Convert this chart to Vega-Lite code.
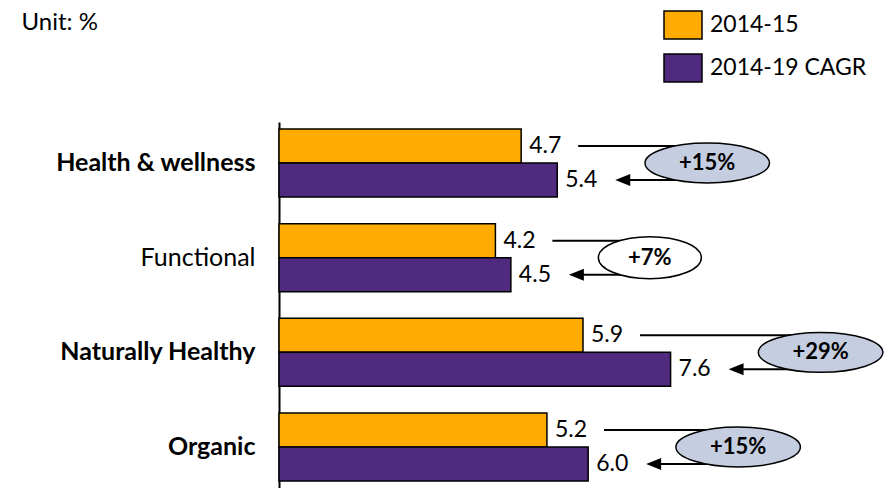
{
  "$schema": "https://vega.github.io/schema/vega-lite/v6.json",
  "width": 608,
  "height": 366,
  "autosize": {"type": "none"},
  "padding": {"left": 279, "top": 122, "right": 8, "bottom": 0},
  "background": "white",
  "config": {"view": {"stroke": null}, "font": "Lato"},
  "data": {
    "values": [
      {"category": "Health & wellness", "2014-15": 4.7, "2014-19 CAGR": 5.4, "growth": 0.15},
      {"category": "Functional", "2014-15": 4.2, "2014-19 CAGR": 4.5, "growth": 0.07},
      {"category": "Naturally Healthy", "2014-15": 5.9, "2014-19 CAGR": 7.6, "growth": 0.29},
      {"category": "Organic", "2014-15": 5.2, "2014-19 CAGR": 6.0, "growth": 0.15}
    ]
  },
  "encoding": {
    "y": {
      "field": "category",
      "type": "nominal",
      "sort": ["Health & wellness", "Functional", "Naturally Healthy", "Organic"],
      "scale": {"paddingInner": 0.2817, "paddingOuter": 0.074},
      "axis": {
        "title": "Unit: %",
        "titleAngle": 0,
        "titleX": -258,
        "titleY": -93,
        "titleAlign": "left",
        "titleBaseline": "alphabetic",
        "titleFont": "Lato",
        "titleFontSize": 24,
        "titleFontWeight": "normal",
        "titleColor": "black",
        "domainColor": "black",
        "domainWidth": 2,
        "ticks": false,
        "labelFont": "Lato",
        "labelFontSize": 25,
        "labelFontWeight": {"condition": {"test": "datum.value === 'Functional'", "value": "normal"}, "value": "bold"},
        "labelColor": "black",
        "labelPadding": 24,
        "labelLimit": 300
      }
    }
  },
  "layer": [
    {
      "transform": [{"fold": ["2014-15", "2014-19 CAGR"], "as": ["series", "value"]}],
      "mark": {"type": "bar", "stroke": "black", "strokeWidth": 1.5, "opacity": 1},
      "encoding": {
        "x": {"field": "value", "type": "quantitative", "scale": {"domain": [0, 11.8], "nice": false}, "axis": null},
        "yOffset": {"field": "series", "sort": ["2014-15", "2014-19 CAGR"]},
        "color": {
          "field": "series",
          "type": "nominal",
          "scale": {"domain": ["2014-15", "2014-19 CAGR"], "range": ["#FFAB00", "#4F2A7F"]},
          "legend": {
            "orient": "none",
            "legendX": 384,
            "legendY": -117,
            "title": null,
            "padding": 0,
            "symbolType": "M -1 -0.737 L 1 -0.737 L 1 0.737 L -1 0.737 Z",
            "symbolSize": 1444,
            "symbolStrokeColor": "black",
            "symbolStrokeWidth": 1.5,
            "symbolOpacity": 1,
            "labelFont": "Lato",
            "labelFontSize": 23,
            "labelColor": "black",
            "labelOffset": 7,
            "rowPadding": 5
          }
        }
      }
    },
    {
      "transform": [{"fold": ["2014-15", "2014-19 CAGR"], "as": ["series", "value"]}],
      "mark": {"type": "text", "align": "left", "baseline": "middle", "dx": 8, "font": "Lato", "fontSize": 23, "color": "black"},
      "encoding": {
        "x": {"field": "value", "type": "quantitative", "scale": {"domain": [0, 11.8], "nice": false}},
        "yOffset": {"field": "series", "sort": ["2014-15", "2014-19 CAGR"]},
        "text": {"field": "value", "type": "quantitative", "format": ".1f"}
      }
    },
    {
      "mark": {"type": "rule", "color": "black", "strokeWidth": 2, "xOffset": 57, "x2Offset": 150, "yOffset": -17},
      "encoding": {
        "x": {"field": "2014-15", "type": "quantitative", "scale": {"domain": [0, 11.8], "nice": false}},
        "x2": {"field": "2014-19 CAGR"}
      }
    },
    {
      "mark": {"type": "rule", "color": "black", "strokeWidth": 2, "xOffset": 70, "x2Offset": 150, "yOffset": 17},
      "encoding": {
        "x": {"field": "2014-19 CAGR", "type": "quantitative", "scale": {"domain": [0, 11.8], "nice": false}},
        "x2": {"field": "2014-19 CAGR"}
      }
    },
    {
      "mark": {"type": "point", "shape": "M -1 0 L 1 -0.8 L 1 0.8 Z", "size": 225, "filled": true, "color": "black", "opacity": 1, "xOffset": 65.5, "yOffset": 17},
      "encoding": {
        "x": {"field": "2014-19 CAGR", "type": "quantitative", "scale": {"domain": [0, 11.8], "nice": false}}
      }
    },
    {
      "transform": [{"filter": "datum.growth >= 0.1"}],
      "layer": [
        {
          "mark": {
            "type": "point",
            "shape": "M -1 0 C -1 -0.1767 -0.5523 -0.32 0 -0.32 C 0.5523 -0.32 1 -0.1767 1 0 C 1 0.1767 0.5523 0.32 0 0.32 C -0.5523 0.32 -1 0.1767 -1 0 Z",
            "size": 15500,
            "filled": true,
            "fill": "#C5CEE0",
            "stroke": "black",
            "strokeWidth": 1.5,
            "opacity": 1,
            "xOffset": 150
          },
          "encoding": {
            "x": {"field": "2014-19 CAGR", "type": "quantitative", "scale": {"domain": [0, 11.8], "nice": false}}
          }
        },
        {
          "mark": {"type": "text", "align": "center", "baseline": "middle", "font": "Lato", "fontSize": 22, "fontWeight": "bold", "color": "black", "xOffset": 150},
          "encoding": {
            "x": {"field": "2014-19 CAGR", "type": "quantitative", "scale": {"domain": [0, 11.8], "nice": false}},
            "text": {"field": "growth", "type": "quantitative", "format": "+.0%"}
          }
        }
      ]
    },
    {
      "transform": [{"filter": "datum.growth < 0.1"}],
      "layer": [
        {
          "mark": {
            "type": "point",
            "shape": "M -1 0 C -1 -0.2253 -0.5523 -0.408 0 -0.408 C 0.5523 -0.408 1 -0.2253 1 0 C 1 0.2253 0.5523 0.408 0 0.408 C -0.5523 0.408 -1 0.2253 -1 0 Z",
            "size": 10609,
            "filled": true,
            "fill": "white",
            "stroke": "black",
            "strokeWidth": 1.5,
            "opacity": 1,
            "xOffset": 139
          },
          "encoding": {
            "x": {"field": "2014-19 CAGR", "type": "quantitative", "scale": {"domain": [0, 11.8], "nice": false}}
          }
        },
        {
          "mark": {"type": "text", "align": "center", "baseline": "middle", "font": "Lato", "fontSize": 22, "fontWeight": "bold", "color": "black", "xOffset": 139},
          "encoding": {
            "x": {"field": "2014-19 CAGR", "type": "quantitative", "scale": {"domain": [0, 11.8], "nice": false}},
            "text": {"field": "growth", "type": "quantitative", "format": "+.0%"}
          }
        }
      ]
    }
  ]
}
